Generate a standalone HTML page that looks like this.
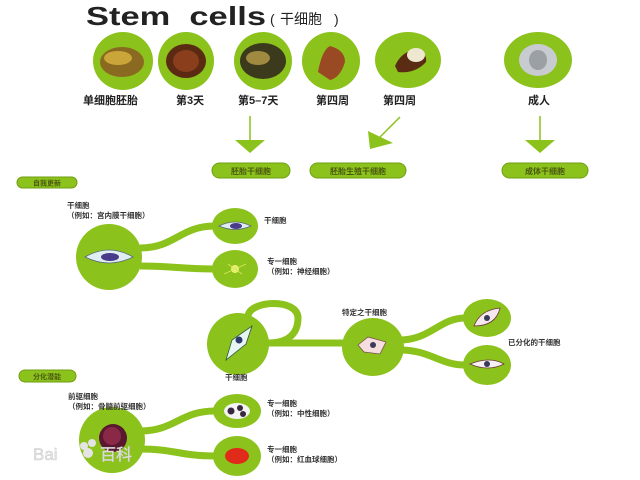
<!DOCTYPE html>
<html><head><meta charset="utf-8"><style>
html,body{margin:0;padding:0;background:#fff;}
svg{display:block;}
text{font-family:"Liberation Sans","Noto Sans CJK SC",sans-serif;font-weight:bold;fill:#333;}
.s{font-size:7.5px;}
.m{font-size:11px;fill:#222;}
.p{font-size:8px;fill:#4a5a10;}
</style></head><body>
<svg width="640" height="480" viewBox="0 0 640 480" xmlns="http://www.w3.org/2000/svg">
<rect width="640" height="480" fill="#fff"/>
<!-- Title -->
<text x="86" y="25" style="font-size:26px;font-weight:900;fill:#222" textLength="180" lengthAdjust="spacingAndGlyphs">Stem&#160;&#160;cells</text>
<text x="270" y="24" style="font-size:14px;font-weight:normal;fill:#222">(</text>
<text x="280" y="24" style="font-size:14px;font-weight:normal;fill:#222">干细胞</text>
<text x="334" y="24" style="font-size:14px;font-weight:normal;fill:#222">)</text>

<!-- Top circles -->
<g fill="#8cc21c">
<ellipse cx="123" cy="61" rx="30" ry="29"/>
<ellipse cx="186" cy="61" rx="28" ry="29"/>
<ellipse cx="263" cy="61" rx="29" ry="29"/>
<ellipse cx="331" cy="61" rx="29" ry="29"/>
<ellipse cx="408" cy="60" rx="33" ry="28"/>
<ellipse cx="538" cy="60" rx="34" ry="28"/>
</g>
<ellipse cx="122" cy="62" rx="22" ry="15" fill="#8a6a20"/>
<ellipse cx="118" cy="58" rx="14" ry="7" fill="#c9a53a"/>
<ellipse cx="186" cy="61" rx="20" ry="17" fill="#5a2a12"/>
<ellipse cx="186" cy="61" rx="13" ry="11" fill="#8a3e1c"/>
<ellipse cx="263" cy="61" rx="23" ry="18" fill="#3c3a1c"/>
<ellipse cx="258" cy="58" rx="12" ry="7" fill="#a08a40"/>
<path d="M318 72 Q322 50 330 46 Q345 50 345 62 Q340 78 330 80" fill="#9a4a22"/>
<path d="M395 66 Q400 54 412 50 Q428 52 426 62 Q415 74 398 72 Z" fill="#5a2c14"/>
<ellipse cx="416" cy="55" rx="9" ry="7" fill="#eee8d0"/>
<ellipse cx="538" cy="60" rx="19" ry="16" fill="#c8ccd0"/>
<ellipse cx="538" cy="60" rx="9" ry="10" fill="#9aa0a4"/>

<!-- Labels top -->
<text class="m" x="83" y="104">单细胞胚胎</text>
<text class="m" x="176" y="104">第3天</text>
<text class="m" x="238" y="104">第5–7天</text>
<text class="m" x="316" y="104">第四周</text>
<text class="m" x="383" y="104">第四周</text>
<text class="m" x="528" y="104">成人</text>

<!-- Arrows -->
<g fill="#8cc21c" stroke="#8cc21c">
<line x1="250" y1="116" x2="250" y2="141" stroke-width="1.5"/>
<polygon points="235,140 265,140 250,153" stroke="none"/>
<line x1="400" y1="117" x2="379" y2="138" stroke-width="1.5"/>
<polygon points="368,131 393,143 370,149" stroke="none"/>
<line x1="540" y1="116" x2="540" y2="141" stroke-width="1.5"/>
<polygon points="525,140 555,140 540,153" stroke="none"/>
</g>
<!-- Pills -->
<g fill="#8cc21c" stroke="#6f9e12" stroke-width="1">
<rect x="212" y="163" width="78" height="15" rx="7.5"/>
<rect x="310" y="163" width="96" height="15" rx="7.5"/>
<rect x="502" y="163" width="86" height="15" rx="7.5"/>
<rect x="17" y="177" width="60" height="11" rx="5.5"/>
<rect x="19" y="370" width="57" height="12" rx="6"/>
</g>
<text class="p" x="251" y="174" text-anchor="middle">胚胎干细胞</text>
<text class="p" x="358" y="174" text-anchor="middle">胚胎生殖干细胞</text>
<text class="p" x="545" y="174" text-anchor="middle">成体干细胞</text>
<text class="p" x="47" y="185.5" text-anchor="middle" style="font-size:7px">自我更新</text>
<text class="p" x="47" y="379" text-anchor="middle" style="font-size:7px">分化潜能</text>

<!-- connectors -->
<g fill="none" stroke="#8cc21c" stroke-width="7">
<path d="M140 248 C175 248 180 226 215 226"/>
<path d="M140 266 C175 266 180 269 215 269"/>
<path d="M140 431 C175 431 180 411 215 411"/>
<path d="M140 449 C175 449 180 456 215 456"/>
<path d="M262 343 L345 343"/>
<path d="M248 316 C250 300 298 298 298 318 C298 336 285 343 268 343"/>
<path d="M400 340 C430 340 440 318 465 318"/>
<path d="M400 350 C430 350 440 365 465 365"/>
</g>
<g fill="#8cc21c">
<circle cx="109" cy="257" r="33"/>
<ellipse cx="235" cy="226" rx="23" ry="18"/>
<ellipse cx="235" cy="269" rx="23" ry="19"/>
<circle cx="238" cy="344" r="31"/>
<ellipse cx="373" cy="347" rx="31" ry="29"/>
<ellipse cx="487" cy="318" rx="24" ry="19"/>
<ellipse cx="487" cy="365" rx="24" ry="20"/>
<circle cx="112" cy="440" r="33"/>
<ellipse cx="237" cy="411" rx="24" ry="17"/>
<ellipse cx="237" cy="456" rx="24" ry="20"/>
</g>
<!-- cell drawings -->
<path d="M85 257 Q109 243 133 257 Q109 269 85 257 Z" fill="#dfeef2" stroke="#5a6a7a" stroke-width="0.8"/>
<ellipse cx="110" cy="257" rx="9" ry="4" fill="#4a3a8a"/>
<path d="M219 226 Q235 218 251 226 Q235 233 219 226 Z" fill="#dfeef2" stroke="#5a6a7a" stroke-width="0.8"/>
<ellipse cx="236" cy="226" rx="6" ry="3" fill="#4a3a8a"/>
<circle cx="235" cy="269" r="4" fill="#e8f070"/>
<path d="M224 274 L246 264 M228 264 L242 274" stroke="#d8e860" stroke-width="0.8"/>
<path d="M226 360 L232 340 L252 326 L246 344 Z" fill="#e8f4f4" stroke="#2a5a3a" stroke-width="0.8"/>
<circle cx="239" cy="340" r="3.5" fill="#2a3a6a"/>
<path d="M358 345 L368 337 L386 342 L380 354 L364 352 Z" fill="#f6dede" stroke="#7a5050" stroke-width="0.8"/>
<circle cx="373" cy="345" r="3" fill="#3a3a5a"/>
<path d="M474 326 Q480 310 500 308 Q496 326 474 326 Z" fill="#f6e8ee" stroke="#6a3a3a" stroke-width="0.8"/>
<circle cx="487" cy="318" r="3" fill="#3a3a5a"/>
<path d="M470 364 Q490 356 504 364 Q488 372 470 364 Z" fill="#f6f0f4" stroke="#6a3a3a" stroke-width="0.8"/>
<circle cx="487" cy="364" r="3" fill="#3a3a5a"/>
<circle cx="113" cy="438" r="14" fill="#5a1830"/>
<circle cx="112" cy="436" r="9" fill="#8a2848"/>
<ellipse cx="237" cy="411" rx="13" ry="8" fill="#f4f4f4"/>
<circle cx="231" cy="411" r="3.5" fill="#3a2840"/><circle cx="240" cy="408" r="3" fill="#3a2840"/><circle cx="243" cy="414" r="3" fill="#3a2840"/>
<ellipse cx="237" cy="456" rx="12" ry="8" fill="#e02a1a"/>
<!-- watermark -->
<text x="33" y="460" style="font-size:17px;font-weight:normal;fill:#e4e4e4;stroke:#ccc;stroke-width:0.5">Bai</text>
<text x="100" y="460" style="font-size:16px;font-weight:normal;fill:#e4e4e4;stroke:#ccc;stroke-width:0.5">百科</text>
<circle cx="84" cy="446" r="4" fill="#e4e4e4"/><circle cx="92" cy="443" r="4" fill="#e4e4e4"/><circle cx="88" cy="453" r="5" fill="#e4e4e4"/>

<!-- small labels -->
<text class="s" x="67" y="208">干细胞</text>
<text class="s" x="67" y="218">（例如：宫内膜干细胞）</text>
<text class="s" x="264" y="223">干细胞</text>
<text class="s" x="267" y="264">专一细胞</text>
<text class="s" x="267" y="274">（例如：神经细胞）</text>
<text class="s" x="342" y="315">特定之干细胞</text>
<text class="s" x="508" y="345">已分化的干细胞</text>
<text class="s" x="225" y="380">干细胞</text>
<text class="s" x="68" y="399">前驱细胞</text>
<text class="s" x="68" y="409">（例如：骨髓前驱细胞）</text>
<text class="s" x="267" y="406">专一细胞</text>
<text class="s" x="267" y="416">（例如：中性细胞）</text>
<text class="s" x="267" y="452">专一细胞</text>
<text class="s" x="267" y="462">（例如：红血球细胞）</text>
</svg>
</body></html>
